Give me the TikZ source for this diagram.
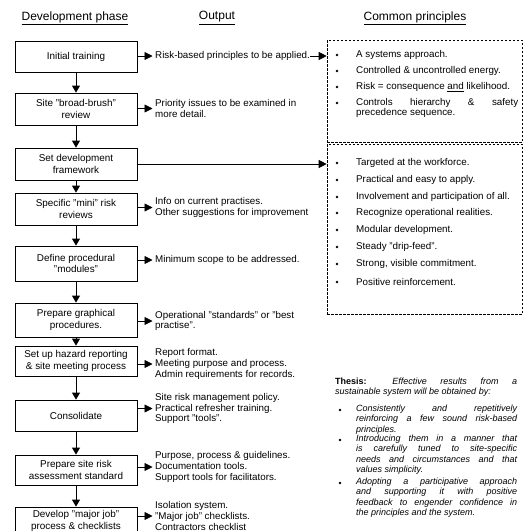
\documentclass[tikz,border=0pt]{standalone}
\usepackage{fontspec}
\setmainfont{Liberation Sans}
\usetikzlibrary{arrows.meta,calc}
\begin{document}
\begin{tikzpicture}[x=1pt,y=-1pt,
  phase/.style={draw,line width=0.8pt,minimum width=122pt,align=center,inner sep=1pt,font=\fontsize{9.9}{11.5}\selectfont},
  outtxt/.style={anchor=west,align=left,inner sep=0pt,font=\fontsize{9.8}{10.9}\selectfont},
  hdr/.style={font=\fontsize{12}{14}\selectfont,inner sep=0pt},
  prin/.style={anchor=west,inner sep=0pt,align=left,font=\fontsize{9.8}{10.5}\selectfont},
  thes/.style={anchor=north west,inner sep=0pt,align=left,font=\fontsize{9}{10.2}\selectfont\itshape},
  dbox/.style={draw,dash pattern=on 2.5pt off 1.5pt,line width=0.6pt,minimum width=195pt,inner sep=0pt},
  varrow/.style={-{Triangle[length=7pt,width=8pt]},line width=0.8pt},
  harrow/.style={-{Triangle[length=8pt,width=8pt]},line width=0.8pt},
  bul/.style={circle,fill,inner sep=0pt,minimum size=2.6pt},
]
\useasboundingbox (0,0) rectangle (528,531);
\fill[white] (0,0) rectangle (528,531);

% headers
\node[hdr] (h1) at (75,18) {\underline{Development phase}};
\node[hdr] (h2) at (217,18) {\underline{Output}};
\node[hdr] (h3) at (415,18) {\underline{Common principles}};

% phase boxes
\node[phase,minimum height=31pt] (b1) at (76,56.5) {Initial training};
\node[phase,minimum height=32pt] (b2) at (76,109) {Site "broad-brush"\\review};
\node[phase,minimum height=32pt] (b3) at (76,164) {Set development\\framework};
\node[phase,minimum height=32pt] (b4) at (76,209) {Specific "mini" risk\\reviews};
\node[phase,minimum height=35pt] (b5) at (76,263.5) {Define procedural\\"modules"};
\node[phase,minimum height=34pt] (b6) at (76,320) {Prepare graphical\\procedures.};
\node[phase,minimum height=30pt] (b7) at (76,361) {Set up hazard reporting\\\& site meeting process};
\node[phase,minimum height=31pt] (b8) at (76,415.5) {Consolidate};
\node[phase,minimum height=30pt] (b9) at (76,470) {Prepare site risk\\assessment standard};
\node[phase,minimum height=28pt] (b10) at (76,521) {Develop "major job"\\process \& checklists};

\foreach \a/\b in {b1/b2,b2/b3,b3/b4,b4/b5,b5/b6,b6/b7,b7/b8,b8/b9,b9/b10}
  \draw[varrow] (\a.south) -- (\b.north);

% outputs
\node[outtxt] (o1) at (155,56) {Risk-based principles to be applied.};
\node[outtxt] (o2) at (155,108.5) {Priority issues to be examined in\\more detail.};
\node[outtxt] (o4) at (155,207.5) {Info on current practises.\\Other suggestions for improvement};
\node[outtxt] (o5) at (155,260) {Minimum scope to be addressed.};
\node[outtxt] (o6) at (155,321) {Operational "standards" or "best\\practise".};
\node[outtxt] (o7) at (155,364) {Report format.\\Meeting purpose and process.\\Admin requirements for records.};
\node[outtxt] (o8) at (155,408.5) {Site risk management policy.\\Practical refresher training.\\Support "tools".};
\node[outtxt] (o9) at (155,467) {Purpose, process \& guidelines.\\Documentation tools.\\Support tools for facilitators.};
\node[outtxt] (o10) at (155,516) {Isolation system.\\"Major job" checklists.\\Contractors checklist};

\foreach \b/\o in {b1/o1,b2/o2,b4/o4,b5/o5,b6/o6,b7/o7,b8/o8,b9/o9,b10/o10}
  \draw[harrow] (\b.east |- \o.west) -- ([xshift=-2.5pt]\o.west);

% common principles boxes
\node[dbox,minimum height=102pt] (p1) at (424.5,91) {};
\node[dbox,minimum height=170pt] (p2) at (424.5,229) {};

\draw[harrow] (o1.east) -- (p1.west |- o1.east);
\draw[harrow] (b3.east) -- (p2.west |- b3.east);

\node[prin] (c1) at (356,55) {A systems approach.};
\node[prin] (c2) at (356,71) {Controlled \& uncontrolled energy.};
\node[prin] (c3) at (356,87) {Risk = consequence \underline{and} likelihood.};
\node[prin] (c4) at (356,108) {\makebox[162pt][s]{Controls hierarchy \& safety}\\precedence sequence.};
\foreach \y in {55,71,87,103} \node[bul] at (337,\y) {};

\node[prin] (d1) at (356,163) {Targeted at the workforce.};
\node[prin] (d2) at (356,180) {Practical and easy to apply.};
\node[prin] (d3) at (356,197) {Involvement and participation of all.};
\node[prin] (d4) at (356,213) {Recognize operational realities.};
\node[prin] (d5) at (356,230) {Modular development.};
\node[prin] (d6) at (356,247) {Steady "drip-feed".};
\node[prin] (d7) at (356,264) {Strong, visible commitment.};
\node[prin] (d8) at (356,282) {Positive reinforcement.};
\foreach \y in {163,180,197,213,230,247,264,282} \node[bul] at (337,\y) {};

% thesis
\node[thes] (t1) at (335,378) {\makebox[182pt][s]{\textbf{\upshape Thesis:} Effective results from a}\\sustainable system will be obtained by:};
\node[thes] (t2) at (356,405) {\makebox[161pt][s]{Consistently and repetitively}\\\makebox[161pt][s]{reinforcing a few sound risk-based}\\principles.};
\node[thes] (t3) at (356,435) {\makebox[161pt][s]{Introducing them in a manner that}\\\makebox[161pt][s]{is carefully tuned to site-specific}\\\makebox[161pt][s]{needs and circumstances and that}\\values simplicity.};
\node[thes] (t4) at (356,478) {\makebox[161pt][s]{Adopting a participative approach}\\\makebox[161pt][s]{and supporting it with positive}\\\makebox[161pt][s]{feedback to engender confidence in}\\the principles and the system.};
\foreach \y in {410,440,483} \node[bul] at (340,\y) {};
\end{tikzpicture}
\end{document}
